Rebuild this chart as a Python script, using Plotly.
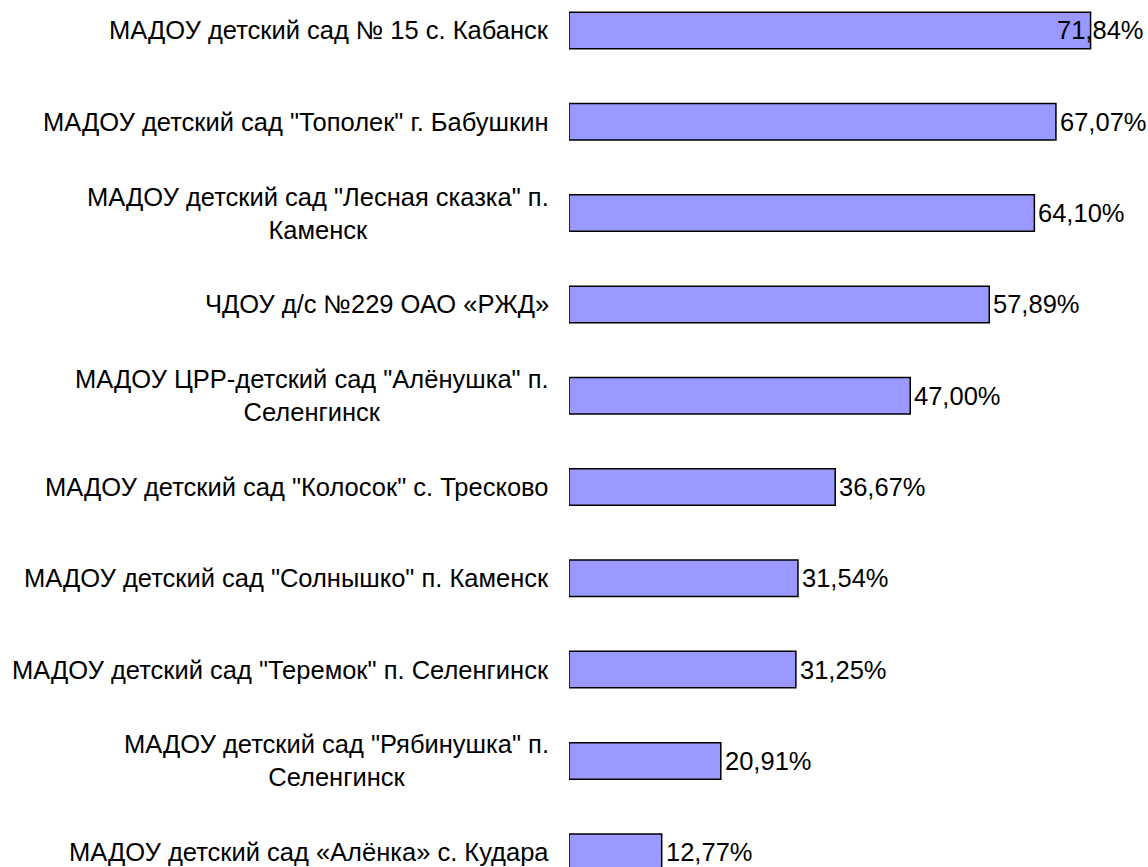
import plotly.graph_objects as go

# Data (top to bottom as shown)
categories = [
    'МАДОУ детский сад № 15 с. Кабанск',
    'МАДОУ детский сад "Тополек" г. Бабушкин',
    'МАДОУ детский сад "Лесная сказка" п. Каменск',
    'ЧДОУ д/с №229 ОАО «РЖД»',
    'МАДОУ ЦРР-детский сад "Алёнушка" п. Селенгинск',
    'МАДОУ детский сад "Колосок" с. Тресково',
    'МАДОУ детский сад "Солнышко" п. Каменск',
    'МАДОУ детский сад "Теремок" п. Селенгинск',
    'МАДОУ детский сад "Рябинушка" п. Селенгинск',
    'МАДОУ детский сад «Алёнка» с. Кудара',
]
display_labels = [
    'МАДОУ детский сад № 15 с. Кабанск',
    'МАДОУ детский сад "Тополек" г. Бабушкин',
    'МАДОУ детский сад "Лесная сказка" п.<br>Каменск',
    'ЧДОУ д/с №229 ОАО «РЖД»',
    'МАДОУ ЦРР-детский сад "Алёнушка" п.<br>Селенгинск',
    'МАДОУ детский сад "Колосок" с. Тресково',
    'МАДОУ детский сад "Солнышко" п. Каменск',
    'МАДОУ детский сад "Теремок" п. Селенгинск',
    'МАДОУ детский сад "Рябинушка" п.<br>Селенгинск',
    'МАДОУ детский сад «Алёнка» с. Кудара',
]
values = [71.84, 67.07, 64.10, 57.89, 47.00, 36.67, 31.54, 31.25, 20.91, 12.77]
value_labels = ['71,84%', '67,07%', '64,10%', '57,89%', '47,00%',
                '36,67%', '31,54%', '31,25%', '20,91%', '12,77%']

FONT = 'Arial, Liberation Sans, sans-serif'
FS = 25.5

fig = go.Figure()
fig.add_trace(go.Bar(
    y=categories, x=values, orientation='h',
    marker=dict(color='#9999FF', line=dict(color='#000000', width=1.5)),
    hoverinfo='skip',
))

annotations = []
for cat, lab in zip(categories, display_labels):
    annotations.append(dict(
        xref='paper', x=0, yref='y', y=cat, text=lab,
        xanchor='right', yanchor='middle', align='center', xshift=-18,
        showarrow=False, font=dict(family=FONT, size=FS, color='#000000'),
    ))
for cat, v, t in zip(categories, values, value_labels):
    if v == max(values):
        # label too long to fit on the right: pushed back against the right edge
        annotations.append(dict(
            xref='paper', x=1, yref='y', y=cat, text=t,
            xanchor='right', yanchor='middle', xshift=-2,
            showarrow=False, font=dict(family=FONT, size=FS, color='#000000'),
        ))
    else:
        annotations.append(dict(
            xref='x', x=v, yref='y', y=cat, text=t,
            xanchor='left', yanchor='middle', xshift=2,
            showarrow=False, font=dict(family=FONT, size=FS, color='#000000'),
        ))

fig.update_layout(
    width=1148, height=867,
    margin=dict(l=569, r=0, t=0, b=0, pad=0),
    paper_bgcolor='white', plot_bgcolor='white',
    showlegend=False, bargap=0.6,
    font=dict(family=FONT, size=FS, color='#000000'),
    xaxis=dict(range=[0, 79.75], visible=False, fixedrange=True),
    yaxis=dict(categoryorder='array', categoryarray=categories[::-1],
               range=[-0.162, 9.334], showticklabels=False, showgrid=False,
               zeroline=False, showline=False, ticks='', fixedrange=True),
    annotations=annotations,
)

fig.write_html(
    'out.html',
    config={'displayModeBar': False},
    post_script="document.body.style.margin='0';document.body.style.overflow='hidden';",
)
